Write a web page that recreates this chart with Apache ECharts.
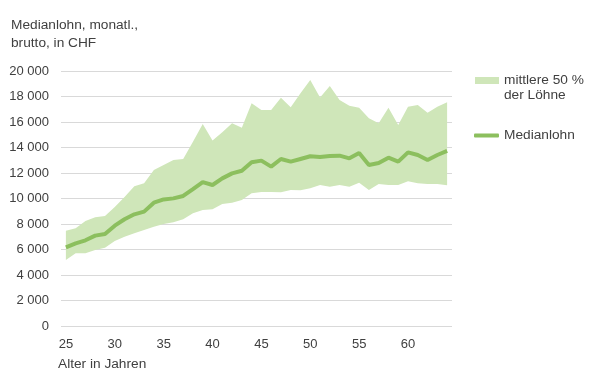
<!DOCTYPE html>
<html>
<head>
<meta charset="utf-8">
<script src="https://cdn.jsdelivr.net/npm/echarts@6/dist/echarts.min.js"></script>
<style>html,body{margin:0;padding:0;background:#fff}#c{width:598px;height:381px}</style>
</head>
<body>
<div id="c"></div>
<script>
const ages = [25,26,27,28,29,30,31,32,33,34,35,36,37,38,39,40,41,42,43,44,45,46,47,48,49,50,51,52,53,54,55,56,57,58,59,60,61,62,63,64];
const median = [6170,6480,6720,7090,7220,7870,8370,8760,8970,9670,9930,10010,10200,10740,11290,11060,11580,11970,12180,12840,12970,12500,13100,12890,13100,13310,13250,13330,13360,13150,13570,12630,12780,13200,12890,13620,13410,13020,13410,13730];
const upper = [7480,7660,8240,8520,8630,9330,10120,10960,11190,12230,12630,13020,13100,14460,15840,14540,15190,15900,15550,17470,16940,16940,17900,17150,18250,19290,17930,18820,17720,17280,17120,16290,15900,17120,15760,17200,17330,16730,17200,17540];
const lower = [5180,5700,5700,5960,6140,6670,7000,7270,7530,7790,8000,8130,8370,8840,9100,9150,9570,9670,9880,10410,10510,10510,10490,10670,10640,10800,11060,10930,11060,10930,11240,10670,11140,11060,11060,11350,11190,11140,11140,11030];
const xTickLabels = ['25','30','35','40','45','50','55','60'];
const bandName = 'mittlere 50 %\nder Löhne';
const lineName = 'Medianlohn';

const textColor = '#404040';
const font = 'Liberation Sans, Arial, sans-serif';
const fs = 13.7;
const chart = echarts.init(document.getElementById('c'), null, {renderer:'canvas'});
chart.setOption({
  animation:false,
  textStyle:{fontFamily:font},
  title:{text:'Medianlohn, monatl.,\nbrutto, in CHF', left:6, top:11,
    textStyle:{fontSize:fs, fontWeight:'normal', color:textColor, lineHeight:18, fontFamily:font}},
  grid:{left:61, right:146, top:71, bottom:55},
  legend:[
    {data:[{name:bandName, icon:'rect'}], orient:'vertical', left:475, top:58, padding:0, itemWidth:24, itemHeight:7,
     formatter:n=>'\n'+n,
     textStyle:{fontSize:fs, color:textColor, lineHeight:15, fontFamily:font}, selectedMode:false},
    {data:[{name:lineName, icon:'roundRect'}], orient:'vertical', left:474, top:128, padding:0, itemWidth:25, itemHeight:4,
     itemStyle:{color:'#8cbf5e'},
     textStyle:{fontSize:fs, color:textColor, lineHeight:15, fontFamily:font}, selectedMode:false}
  ],
  xAxis:{type:'category', data:ages, boundaryGap:true,
    axisLine:{show:false}, axisTick:{show:false},
    axisLabel:{color:textColor, fontSize:13, margin:12, fontFamily:font,
      interval:(i,v)=>xTickLabels.indexOf(String(v))>=0}},
  yAxis:{type:'value', min:0, max:20000, interval:2000,
    axisLine:{show:false}, axisTick:{show:false},
    axisLabel:{color:textColor, fontSize:13, margin:12, fontFamily:font,
      formatter:v=>String(v).replace(/\B(?=(\d{3})+(?!\d))/g,' ')},
    splitLine:{lineStyle:{color:'#d9d9d9', width:1}}},
  graphic:[{type:'text', left:58, top:357, style:{text:'Alter in Jahren', fontSize:fs, fill:textColor, fontFamily:font}}],
  series:[
    {name:'lower', type:'line', stack:'band', data:lower, symbol:'none', lineStyle:{opacity:0}, silent:true},
    {name:bandName, type:'line', stack:'band', data:upper.map((u,i)=>u-lower[i]), symbol:'none',
     lineStyle:{width:0, opacity:0}, itemStyle:{color:'#cfe6b9'}, areaStyle:{color:'#cfe6b9', opacity:1}},
    {name:lineName, type:'line', data:median, symbol:'none', itemStyle:{color:'#8cbf5e'},
     lineStyle:{color:'#8cbf5e', width:4}, z:5}
  ]
});
</script>
</body>
</html>
